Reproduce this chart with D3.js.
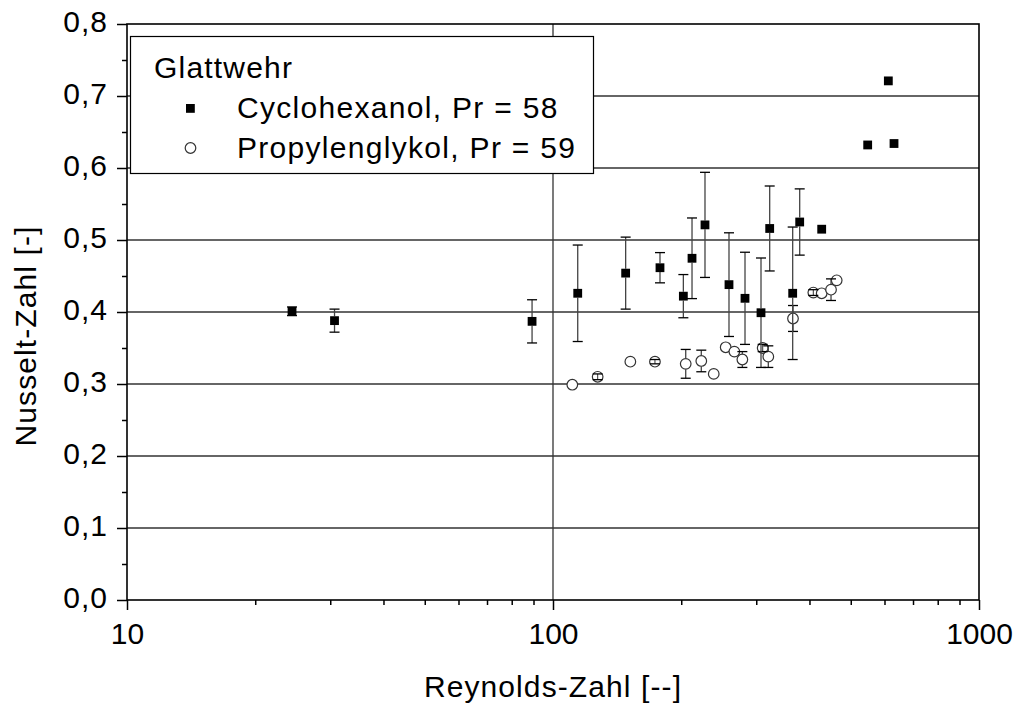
<!DOCTYPE html>
<html>
<head>
<meta charset="utf-8">
<script src="https://cdn.jsdelivr.net/npm/d3@7"></script>
<style>
  html, body { margin: 0; padding: 0; background: #fff; }
  svg { display: block; }
  text { font-family: "Liberation Sans", Arial, sans-serif; fill: #000; }
</style>
</head>
<body>
<svg id="chart" width="1019" height="704"></svg>
<script>
// Glattwehr: Nusselt number over Reynolds number
const reCyclo  = [24.4, 30.7, 89.3, 114.3, 148.1, 178.3, 202.3, 212.0, 227.4, 258.9, 282.3, 307.8, 322.6, 365.3, 379.4, 427.3, 547.9, 612.6, 631.7];
const nuCyclo  = [0.401, 0.388, 0.387, 0.426, 0.454, 0.4615, 0.422, 0.4746, 0.521, 0.438, 0.419, 0.399, 0.516, 0.426, 0.525, 0.515, 0.632, 0.721, 0.634];
const errCyclo = [0.006, 0.016, 0.030, 0.067, 0.050, 0.021, 0.030, 0.056, 0.073, 0.072, 0.064, 0.076, 0.059, 0.092, 0.046, 0, 0, 0, 0];

const reProp  = [111.0, 127.3, 151.9, 173.5, 204.9, 222.9, 238.4, 254.3, 266.5, 278.3, 310.6, 320.2, 365.9, 408.4, 427.3, 449.4, 463.4];
const nuProp  = [0.299, 0.310, 0.331, 0.331, 0.328, 0.332, 0.314, 0.351, 0.345, 0.334, 0.350, 0.338, 0.391, 0.427, 0.426, 0.431, 0.444];
const errProp = [0, 0.004, 0, 0.003, 0.020, 0.015, 0, 0, 0, 0.011, 0.005, 0.015, 0.018, 0.004, 0, 0.015, 0];

const xMajorTicks = [10, 100, 1000];
const xMinorTicks = [20, 30, 40, 50, 60, 70, 80, 90, 200, 300, 400, 500, 600, 700, 800, 900];
const yMajorTicks = [0, 0.1, 0.2, 0.3, 0.4, 0.5, 0.6, 0.7, 0.8];
const yMinorTicks = [0.05, 0.15, 0.25, 0.35, 0.45, 0.55, 0.65, 0.75];

const legendTitle = "Glattwehr";
const seriesNames = ["Cyclohexanol, Pr = 58", "Propylenglykol, Pr = 59"];
const xTitle = "Reynolds-Zahl [--]";
const yTitle = "Nusselt-Zahl [-]";

const plot = { left: 127, right: 979, top: 24, bottom: 600 };

const svg = d3.select("#chart");
const x = d3.scaleLog().domain([10, 1000]).range([plot.left, plot.right]);
const y = d3.scaleLinear().domain([0, 0.8]).range([plot.bottom, plot.top]);
const fmtY = v => d3.format(".1f")(v).replace(".", ",");

// grid lines
const grid = svg.append("g").attr("stroke", "#333").attr("stroke-width", 1.3);
grid.selectAll("line.h").data(yMajorTicks.slice(1, -1)).join("line")
  .attr("x1", plot.left).attr("x2", plot.right)
  .attr("y1", d => y(d)).attr("y2", d => y(d));
grid.selectAll("line.v").data([100]).join("line")
  .attr("x1", d => x(d)).attr("x2", d => x(d))
  .attr("y1", plot.top).attr("y2", plot.bottom);

// axes
const xAxisMajor = d3.axisBottom(x).tickValues(xMajorTicks).tickSize(10).tickPadding(8)
  .tickFormat(d3.format("d"));
const xAxisMinor = d3.axisBottom(x).tickValues(xMinorTicks).tickSize(5).tickFormat("");
const yAxisMajor = d3.axisLeft(y).tickValues(yMajorTicks).tickSize(10).tickPadding(9).tickFormat(fmtY);
const yAxisMinor = d3.axisLeft(y).tickValues(yMinorTicks).tickSize(5).tickFormat("");

function styleAxis(g) {
  g.select(".domain").remove();
  g.selectAll(".tick line").attr("stroke", "#000").attr("stroke-width", 1.5);
  g.selectAll(".tick text").attr("font-size", 30).attr("fill", "#000")
    .attr("font-family", "'Liberation Sans', Arial, sans-serif");
}

svg.append("g").attr("transform", `translate(0,${plot.bottom})`).call(xAxisMinor).call(styleAxis);
const gx = svg.append("g").attr("transform", `translate(0,${plot.bottom})`).call(xAxisMajor).call(styleAxis);
gx.selectAll(".tick text").attr("dy", null).attr("y", 44);

svg.append("g").attr("transform", `translate(${plot.left},0)`).call(yAxisMinor).call(styleAxis);
const gy = svg.append("g").attr("transform", `translate(${plot.left},0)`).call(yAxisMajor).call(styleAxis);
gy.selectAll(".tick text").attr("dy", null).attr("y", 7).attr("letter-spacing", 1);

// frame
svg.append("rect")
  .attr("x", plot.left).attr("y", plot.top)
  .attr("width", plot.right - plot.left).attr("height", plot.bottom - plot.top)
  .attr("fill", "none").attr("stroke", "#000").attr("stroke-width", 1.6);

// axis titles
svg.append("text").attr("x", 553).attr("y", 697).attr("text-anchor", "middle")
  .attr("font-size", 30).attr("letter-spacing", 1.1).text(xTitle);
svg.append("text").attr("transform", "translate(36,336) rotate(-90)").attr("text-anchor", "middle")
  .attr("font-size", 30).attr("letter-spacing", 1.1).text(yTitle);

// error bars: stem outside the marker, caps on top
function errorBars(re, nu, err, r) {
  const rows = re.map((d, i) => ({ re: d, nu: nu[i], e: err[i] })).filter(d => d.e > 0);
  const g = svg.append("g");
  rows.forEach(d => {
    const cx = x(d.re), yt = y(d.nu + d.e), yb = y(d.nu - d.e), yc = y(d.nu);
    if (yc - yt > r) {
      g.append("line").attr("x1", cx).attr("x2", cx).attr("y1", yt).attr("y2", yc - r)
        .attr("stroke", "#444").attr("stroke-width", 1.3);
      g.append("line").attr("x1", cx).attr("x2", cx).attr("y1", yc + r).attr("y2", yb)
        .attr("stroke", "#444").attr("stroke-width", 1.3);
    } else {
      g.append("line").attr("x1", cx).attr("x2", cx).attr("y1", yt).attr("y2", yb)
        .attr("stroke", "#444").attr("stroke-width", 1.1);
    }
    [yt, yb].forEach(yy => g.append("line")
      .attr("x1", cx - 5).attr("x2", cx + 5).attr("y1", yy).attr("y2", yy)
      .attr("stroke", "#000").attr("stroke-width", 1.3));
  });
}

// Propylenglykol: open circles
svg.append("g").selectAll("circle").data(reProp).join("circle")
  .attr("cx", d => x(d)).attr("cy", (d, i) => y(nuProp[i])).attr("r", 5.3)
  .attr("fill", "#fff").attr("stroke", "#333").attr("stroke-width", 1.2);
errorBars(reProp, nuProp, errProp, 5.3);

// Cyclohexanol: filled squares
errorBars(reCyclo, nuCyclo, errCyclo, 4.4);
svg.append("g").selectAll("rect").data(reCyclo).join("rect")
  .attr("x", d => x(d) - 4.4).attr("y", (d, i) => y(nuCyclo[i]) - 4.4)
  .attr("width", 8.8).attr("height", 8.8).attr("fill", "#000");

// legend
const lg = svg.append("g");
lg.append("rect").attr("x", 130.5).attr("y", 36.5).attr("width", 463).attr("height", 137)
  .attr("fill", "#fff").attr("stroke", "#000").attr("stroke-width", 1.2);
lg.append("text").attr("x", 154).attr("y", 78).attr("font-size", 30).attr("letter-spacing", 1.2).text(legendTitle);
lg.append("rect").attr("x", 186).attr("y", 104).attr("width", 8.8).attr("height", 8.8).attr("fill", "#000");
lg.append("circle").attr("cx", 190.5).attr("cy", 148).attr("r", 5.3)
  .attr("fill", "#fff").attr("stroke", "#333").attr("stroke-width", 1.2);
lg.selectAll("text.s").data(seriesNames).join("text")
  .attr("x", 237).attr("y", (d, i) => 118 + i * 40)
  .attr("font-size", 30).attr("letter-spacing", 1.3).text(d => d);
</script>
</body>
</html>
